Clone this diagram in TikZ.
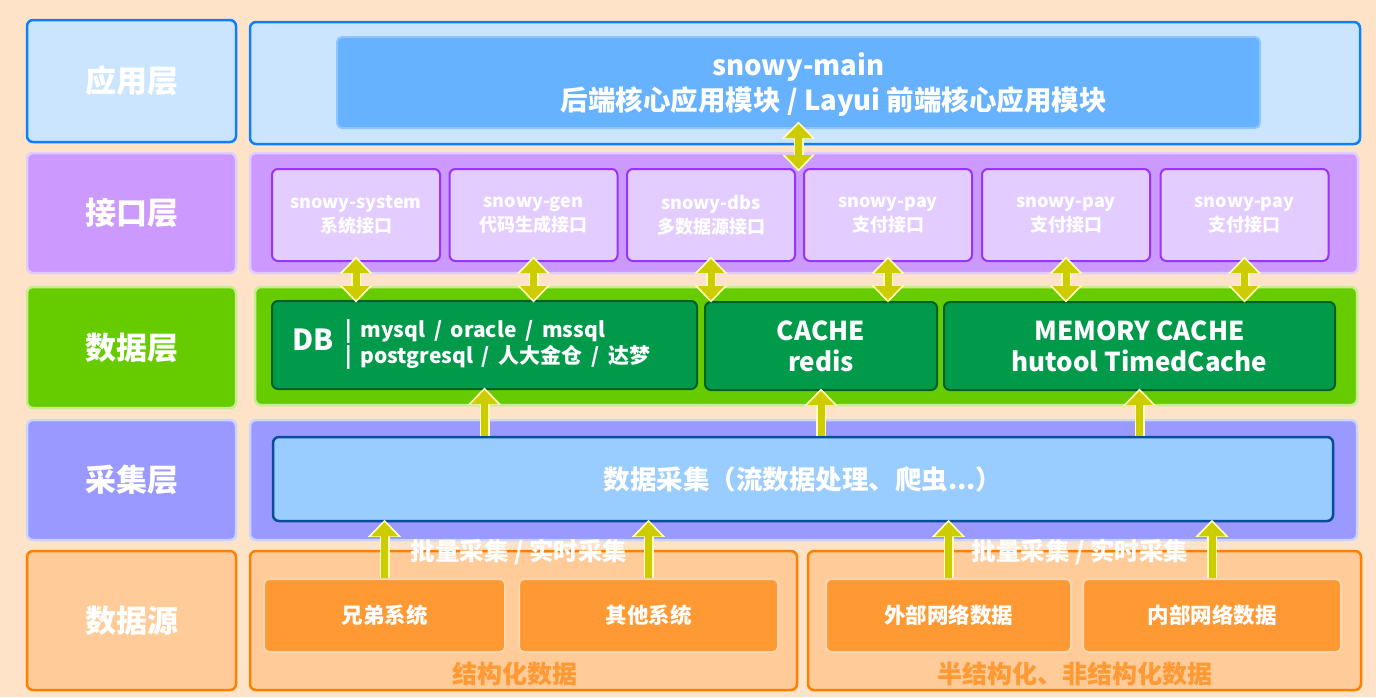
\documentclass[tikz,border=0pt]{standalone}
\usepackage{fontspec}
\setmainfont{Noto Sans CJK SC}
\usetikzlibrary{arrows.meta}

\definecolor{bgpeach}{HTML}{FFE3C9}
\definecolor{appfill}{HTML}{CCE5FF}
\definecolor{appedge}{HTML}{0A80FF}
\definecolor{mainfill}{HTML}{66B2FF}
\definecolor{mainedge}{HTML}{8CC6FF}
\definecolor{apifill}{HTML}{CC99FF}
\definecolor{apiedge}{HTML}{E2CCFF}
\definecolor{apibox}{HTML}{E3CCFF}
\definecolor{apiboxedge}{HTML}{9933FF}
\definecolor{datafill}{HTML}{66CC00}
\definecolor{dataedge}{HTML}{C6EE90}
\definecolor{databox}{HTML}{009A4A}
\definecolor{databoxedge}{HTML}{00602A}
\definecolor{collfill}{HTML}{9999FF}
\definecolor{colledge}{HTML}{C8D6FF}
\definecolor{collbox}{HTML}{99CCFF}
\definecolor{collboxedge}{HTML}{0A4C99}
\definecolor{srcfill}{HTML}{FFCC99}
\definecolor{srcedge}{HTML}{FF8000}
\definecolor{srcbox}{HTML}{FF9933}
\definecolor{srcboxedge}{HTML}{FFD6AC}
\definecolor{arrowfill}{HTML}{CCCC00}
\definecolor{arrowedge}{HTML}{FFFFB8}

\begin{document}
\begin{tikzpicture}[x=1pt,y=-1pt,
  layer/.style={rounded corners=6pt, line width=2.5pt, inner sep=0pt,
    minimum width=209pt, text=white, font=\fontsize{31}{31}\selectfont\bfseries},
  panel/.style={rounded corners=6pt, line width=2.5pt, inner sep=0pt},
  apibox/.style={draw=apiboxedge, fill=apibox, rounded corners=6pt, line width=2pt,
    minimum width=168pt, minimum height=92pt, inner sep=0pt, align=center, text=white,
    font=\fontsize{18}{24}\selectfont\bfseries},
  databox/.style={draw=databoxedge, fill=databox, rounded corners=6pt, line width=2pt,
    minimum height=88pt, inner sep=0pt, align=center, text=white,
    font=\fontsize{26}{31}\selectfont\bfseries},
  srcbox/.style={draw=srcboxedge, fill=srcbox, rounded corners=5pt, line width=2pt,
    minimum height=73pt, inner sep=0pt, text=white, font=\fontsize{21.5}{21.5}\selectfont\bfseries},
  dblarrow/.style={draw=arrowfill, line width=7pt,
    {Triangle[length=14pt,width=26pt]}-{Triangle[length=14pt,width=26pt]},
    preaction={draw=arrowedge, line width=10pt, shorten <=-2.5pt, shorten >=-2.5pt,
      {Triangle[length=17pt,width=32pt]}-{Triangle[length=17pt,width=32pt]}}},
  uparrow/.style={draw=arrowfill, line width=7pt, -{Triangle[length=14pt,width=26pt]},
    preaction={draw=arrowedge, line width=10pt, shorten >=-2.5pt,
      -{Triangle[length=17pt,width=32pt]}}}]

% background
\fill[bgpeach] (0,0) rectangle (1376,697);

% layer names
\node[layer, draw=appedge,  fill=appfill,  minimum height=122pt] (appL)  at (131.5,81)    {应用层};
\node[layer, draw=apiedge,  fill=apifill,  minimum height=120pt] (apiL)  at (131.5,213)   {接口层};
\node[layer, draw=dataedge, fill=datafill, minimum height=121pt] (dataL) at (131.5,347.5) {数据层};
\node[layer, draw=colledge, fill=collfill, minimum height=120pt] (collL) at (131.5,480)   {采集层};
\node[layer, draw=srcedge,  fill=srcfill,  minimum height=139pt] (srcL)  at (131.5,620.5) {数据源};

% layer panels
\node[panel, draw=appedge,  fill=appfill,  minimum width=1110pt, minimum height=122pt] (appP)  at (805,83) {};
\node[panel, draw=apiedge,  fill=apifill,  minimum width=1108pt, minimum height=120pt] (apiP)  at (804,213) {};
\node[panel, draw=dataedge, fill=datafill, minimum width=1102pt, minimum height=118pt] (dataP) at (806,346) {};
\node[panel, draw=colledge, fill=collfill, minimum width=1107pt, minimum height=120pt] (collP) at (803.5,480) {};
\node[panel, draw=srcedge,  fill=srcfill,  minimum width=547pt,  minimum height=139pt] (srcA)  at (523.5,620.5) {};
\node[panel, draw=srcedge,  fill=srcfill,  minimum width=553pt,  minimum height=139pt] (srcB)  at (1084.5,620.5) {};

% application
\node[draw=mainedge, fill=mainfill, line width=2pt, rounded corners=5pt, inner sep=0pt,
  minimum width=923pt, minimum height=91pt, text=white,
  font=\fontsize{27.5}{35}\selectfont\bfseries] (main) at (798.5,82.5) {};
\node[align=center, text=white, font=\fontsize{27.5}{35}\selectfont\bfseries] (mainTxt)
  at (798.5,85) {snowy-main\\\hspace*{71pt}后端核心应用模块 / Layui 前端核心应用模块};

% interfaces
\node[apibox] (sys)  at (356,215)    {snowy-system\\系统接口};
\node[apibox] (gen)  at (533.5,215)  {snowy-gen\\代码生成接口};
\node[apibox] (dbs)  at (711,215)    {snowy-dbs\\多数据源接口};
\node[apibox] (pay1) at (888,215)    {snowy-pay\\支付接口};
\node[apibox] (pay2) at (1066,215)   {snowy-pay\\支付接口};
\node[apibox] (pay3) at (1244.5,215) {snowy-pay\\支付接口};

% data
\node[databox, minimum width=425pt, text width=385pt, align=left] (db) at (484.5,345)
  {{\fontsize{29}{29}\selectfont DB}\hspace{12pt}{\fontsize{21}{26}\selectfont\begin{tabular}{@{}l@{}}| mysql / oracle / mssql\\| postgresql / 人大金仓 / 达梦\end{tabular}}};
\node[databox, minimum width=232pt] (cache) at (821,346)    {CACHE\\redis};
\node[databox, minimum width=391pt] (mem)   at (1139.5,346) {MEMORY CACHE\\hutool TimedCache};

% collection
\node[draw=collboxedge, fill=collbox, line width=2.5pt, rounded corners=6pt, inner sep=0pt,
  minimum width=1060pt, minimum height=84pt, text=white,
  font=\fontsize{26.5}{26.5}\selectfont\bfseries] (coll) at (803,479)
  {数据采集（流数据处理、爬虫...）};

% sources
\node[srcbox, minimum width=241pt] (sib)   at (384.5,615.5) {兄弟系统};
\node[srcbox, minimum width=259pt] (other) at (648.5,615.5) {其他系统};
\node[srcbox, minimum width=245pt] (ext)   at (948.5,615.5) {外部网络数据};
\node[srcbox, minimum width=258pt] (int)   at (1212,615.5)  {内部网络数据};

\node[text=srcbox, font=\fontsize{25}{25}\selectfont\bfseries] (structA) at (515,674)  {结构化数据};
\node[text=srcbox, font=\fontsize{25}{25}\selectfont\bfseries] (structB) at (1075,674) {半结构化、非结构化数据};

% arrows
\draw[dblarrow] ([yshift=5pt]main.south) -- ([yshift=-1pt]main.south |- sys.north);
\foreach \n in {sys,gen,dbs,pay1,pay2,pay3}
  \draw[dblarrow] ([yshift=3pt]\n.south) -- (\n.south |- db.north);
\foreach \n in {db,cache,mem}
  \draw[uparrow] (\n.south |- coll.north) -- (\n.south);
\foreach \n in {sib,other,ext,int}
  \draw[uparrow] (\n.north) -- (\n.north |- coll.south);

\node[text=white, font=\fontsize{24.5}{24.5}\selectfont\bfseries] (batchA) at (519,552)  {批量采集 / 实时采集};
\node[text=white, font=\fontsize{24.5}{24.5}\selectfont\bfseries] (batchB) at (1080,552) {批量采集 / 实时采集};

\end{tikzpicture}
\end{document}
